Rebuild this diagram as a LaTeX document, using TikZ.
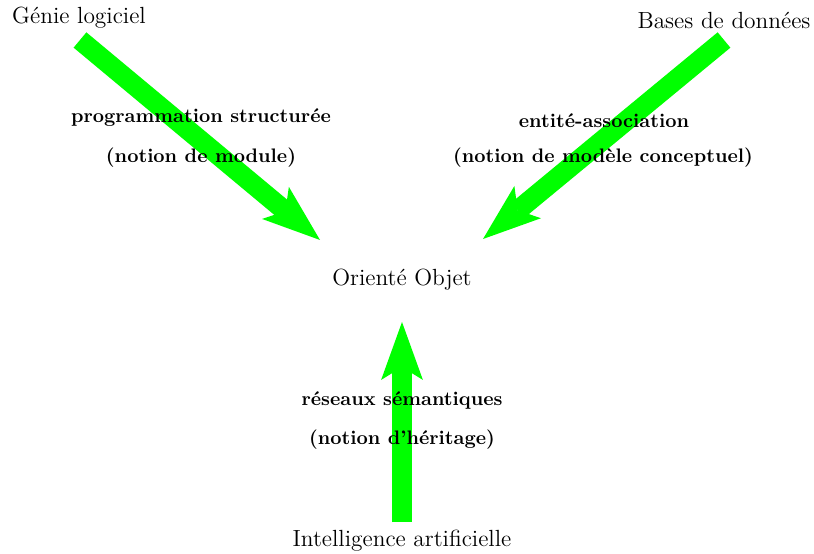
\documentclass[tikz,border=0pt]{standalone}
\usetikzlibrary{arrows.meta}
\begin{document}
\begin{tikzpicture}[x=0.5263pt,y=-0.5263pt,
  place/.style={font=\fontsize{12.3}{15}\selectfont,inner sep=0pt},
  lab/.style={font=\fontsize{10.3}{12}\selectfont\bfseries,inner sep=0pt},
  flow/.style={draw={rgb,255:red,0;green,255;blue,0},line width=10.5pt,line cap=butt,
    -{Stealth[length=30.5pt,width=22pt,inset=6.8pt,line width=0pt]}}]
\useasboundingbox (0,0) rectangle (814,554);
\node[place] (gl) at (79,18) {Génie logiciel};
\node[place] (bd) at (724,20) {Bases de données};
\node[place] (oo) at (402,280) {Orienté Objet};
\node[place] (ia) at (402,541) {Intelligence artificielle};
\coordinate (s1) at (80,40);
\coordinate (t1) at (320,240);
\coordinate (s2) at (724,40);
\coordinate (t2) at (483,239);
\coordinate (s3) at (402,522);
\coordinate (t3) at (402,322);
\draw[flow] (s1) -- (t1);
\draw[flow] (s2) -- (t2);
\draw[flow] (s3) -- (t3);
\node[lab] (l1a) at (201,118) {programmation structurée};
\node[lab] (l1b) at (201,158) {(notion de module)};
\node[lab] (l2a) at (604,121) {entité-association};
\node[lab] (l2b) at (603,158) {(notion de modèle conceptuel)};
\node[lab] (l3a) at (402,401) {réseaux sémantiques};
\node[lab] (l3b) at (402,440) {(notion d'héritage)};
\end{tikzpicture}
\end{document}
